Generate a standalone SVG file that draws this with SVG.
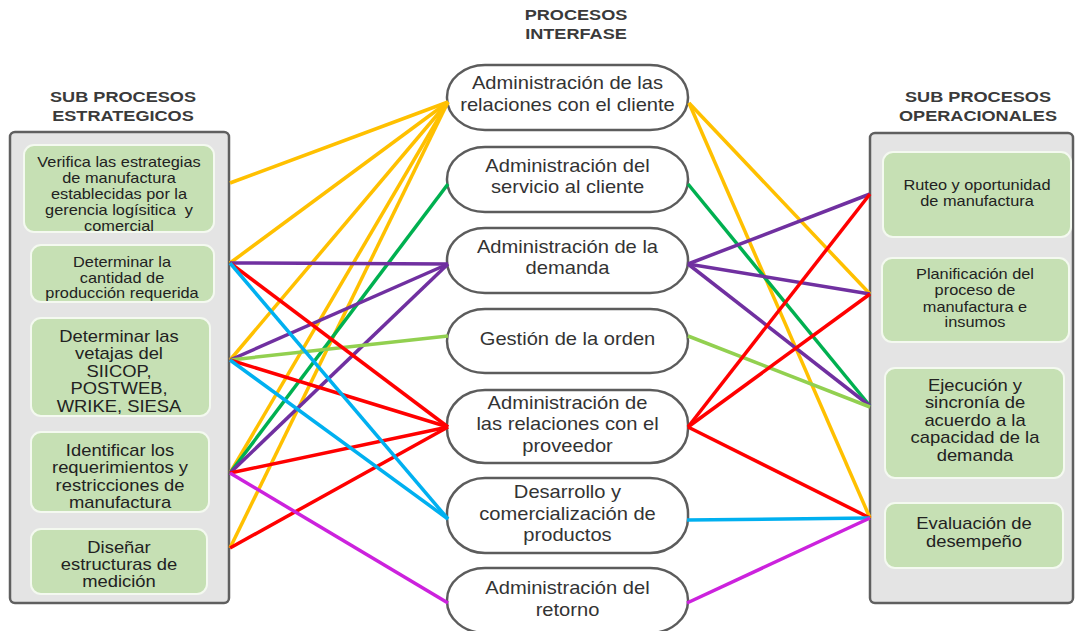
<svg xmlns="http://www.w3.org/2000/svg" width="1076" height="631" viewBox="0 0 1076 631">
  <style>
    .panel { fill: #e4e4e4; stroke: #5f5f5f; stroke-width: 2.5; }
    .box { fill: #c6e0b4; stroke: #f4f9f0; stroke-width: 2; }
    .proc { fill: #ffffff; stroke: #5c5c5c; stroke-width: 2.5; }
    .title { font-family: "Liberation Sans", Arial, sans-serif; font-weight: bold; font-size: 14.5px; fill: #3a3a3a; text-anchor: middle; }
    .t { font-family: "Liberation Sans", Arial, sans-serif; fill: #222222; text-anchor: middle; }
    .s14 { font-size: 14.2px; }
    .s16 { font-size: 16px; }
    .s17 { font-size: 17.5px; fill: #333333; }
    .links line { stroke-width: 3.5; fill: none; }
    .yellow { stroke: #ffc000; }
    .green { stroke: #00b050; }
    .purple { stroke: #7030a0; }
    .lime { stroke: #92d050; }
    .red { stroke: #ff0000; }
    .cyan { stroke: #00b0f0; }
    .magenta { stroke: #cc22dd; }
  </style>
  <rect width="1076" height="631" fill="#ffffff"/>

  <!-- column headings -->
  <g id="title-estrategicos" transform="translate(123 0) scale(1.25 1)">
    <text class="title" x="0" y="102">SUB PROCESOS</text>
    <text class="title" x="0" y="121">ESTRATEGICOS</text>
  </g>
  <g id="title-interfase" transform="translate(576 0) scale(1.25 1)">
    <text class="title" x="0" y="20">PROCESOS</text>
    <text class="title" x="0" y="39">INTERFASE</text>
  </g>
  <g id="title-operacionales" transform="translate(978 0) scale(1.25 1)">
    <text class="title" x="0" y="102">SUB PROCESOS</text>
    <text class="title" x="0" y="121">OPERACIONALES</text>
  </g>

  <!-- left panel: strategic sub-processes -->
  <g id="panel-estrategicos">
    <rect class="panel" x="10" y="132" width="219" height="471" rx="5"/>
  </g>
  <g id="est-1">
    <rect class="box" x="24" y="145" width="190" height="87" rx="10"/>
    <g transform="translate(119 0) scale(1.15 1)">
      <text class="t s14" x="0" y="167">Verifica las estrategias</text>
      <text class="t s14" x="0" y="183">de manufactura</text>
      <text class="t s14" x="0" y="199">establecidas por la</text>
      <text class="t s14" x="0" y="215" xml:space="preserve">gerencia logísitica  y</text>
      <text class="t s14" x="0" y="231">comercial</text>
    </g>
  </g>
  <g id="est-2">
    <rect class="box" x="31" y="245" width="183" height="57" rx="10"/>
    <g transform="translate(122 0) scale(1.15 1)">
      <text class="t s14" x="0" y="267">Determinar la</text>
      <text class="t s14" x="0" y="283">cantidad de</text>
      <text class="t s14" x="0" y="298">producción requerida</text>
    </g>
  </g>
  <g id="est-3">
    <rect class="box" x="31" y="318" width="179" height="98" rx="10"/>
    <g transform="translate(119 0) scale(1.15 1)">
      <text class="t s16" x="0" y="342">Determinar las</text>
      <text class="t s16" x="0" y="359">vetajas del</text>
      <text class="t s16" x="0" y="377">SIICOP,</text>
      <text class="t s16" x="0" y="394">POSTWEB,</text>
      <text class="t s16" x="0" y="412">WRIKE, SIESA</text>
    </g>
  </g>
  <g id="est-4">
    <rect class="box" x="31" y="432" width="178" height="80" rx="10"/>
    <g transform="translate(120 0) scale(1.15 1)">
      <text class="t s16" x="0" y="456">Identificar los</text>
      <text class="t s16" x="0" y="473">requerimientos y</text>
      <text class="t s16" x="0" y="491">restricciones de</text>
      <text class="t s16" x="0" y="508">manufactura</text>
    </g>
  </g>
  <g id="est-5">
    <rect class="box" x="31" y="529" width="176" height="65" rx="10"/>
    <g transform="translate(119 0) scale(1.15 1)">
      <text class="t s16" x="0" y="553">Diseñar</text>
      <text class="t s16" x="0" y="570">estructuras de</text>
      <text class="t s16" x="0" y="587">medición</text>
    </g>
  </g>

  <!-- right panel: operational sub-processes -->
  <g id="panel-operacionales">
    <rect class="panel" x="870" y="133" width="203" height="470" rx="5"/>
  </g>
  <g id="op-1">
    <rect class="box" x="883" y="152" width="188" height="85" rx="10"/>
    <g transform="translate(977 0) scale(1.15 1)">
      <text class="t s14" x="0" y="190">Ruteo y oportunidad</text>
      <text class="t s14" x="0" y="206">de manufactura</text>
    </g>
  </g>
  <g id="op-2">
    <rect class="box" x="882" y="258" width="187" height="84" rx="10"/>
    <g transform="translate(975 0) scale(1.15 1)">
      <text class="t s14" x="0" y="279">Planificación del</text>
      <text class="t s14" x="0" y="295">proceso de</text>
      <text class="t s14" x="0" y="312">manufactura e</text>
      <text class="t s14" x="0" y="327">insumos</text>
    </g>
  </g>
  <g id="op-3">
    <rect class="box" x="885" y="368" width="179" height="110" rx="10"/>
    <g transform="translate(975 0) scale(1.15 1)">
      <text class="t s16" x="0" y="391">Ejecución y</text>
      <text class="t s16" x="0" y="408">sincronía de</text>
      <text class="t s16" x="0" y="426">acuerdo a la</text>
      <text class="t s16" x="0" y="443">capacidad de la</text>
      <text class="t s16" x="0" y="461">demanda</text>
    </g>
  </g>
  <g id="op-4">
    <rect class="box" x="885" y="503" width="178" height="65" rx="10"/>
    <g transform="translate(974 0) scale(1.15 1)">
      <text class="t s16" x="0" y="529">Evaluación de</text>
      <text class="t s16" x="0" y="547">desempeño</text>
    </g>
  </g>

  <!-- interface processes -->
  <g id="int-1">
    <rect class="proc" x="447" y="65" width="241" height="65" rx="38" ry="32"/>
    <g transform="translate(567.5 0) scale(1.15 1)">
      <text class="t s17" x="0" y="89">Administración de las</text>
      <text class="t s17" x="0" y="111">relaciones con el cliente</text>
    </g>
  </g>
  <g id="int-2">
    <rect class="proc" x="447" y="147" width="241" height="65" rx="38" ry="32"/>
    <g transform="translate(567.5 0) scale(1.15 1)">
      <text class="t s17" x="0" y="172">Administración del</text>
      <text class="t s17" x="0" y="193">servicio al cliente</text>
    </g>
  </g>
  <g id="int-3">
    <rect class="proc" x="447" y="228" width="241" height="65" rx="38" ry="32"/>
    <g transform="translate(567.5 0) scale(1.15 1)">
      <text class="t s17" x="0" y="253">Administración de la</text>
      <text class="t s17" x="0" y="274">demanda</text>
    </g>
  </g>
  <g id="int-4">
    <rect class="proc" x="447" y="309" width="241" height="64" rx="38" ry="32"/>
    <g transform="translate(567.5 0) scale(1.15 1)">
      <text class="t s17" x="0" y="345">Gestión de la orden</text>
    </g>
  </g>
  <g id="int-5">
    <rect class="proc" x="447" y="390" width="241" height="73" rx="38" ry="34"/>
    <g transform="translate(567.5 0) scale(1.15 1)">
      <text class="t s17" x="0" y="409">Administración de</text>
      <text class="t s17" x="0" y="430">las relaciones con el</text>
      <text class="t s17" x="0" y="452">proveedor</text>
    </g>
  </g>
  <g id="int-6">
    <rect class="proc" x="447" y="478" width="241" height="75" rx="38" ry="35"/>
    <g transform="translate(567.5 0) scale(1.15 1)">
      <text class="t s17" x="0" y="498">Desarrollo y</text>
      <text class="t s17" x="0" y="520">comercialización de</text>
      <text class="t s17" x="0" y="541">productos</text>
    </g>
  </g>
  <g id="int-7">
    <rect class="proc" x="447" y="568" width="241" height="65" rx="38" ry="32"/>
    <g transform="translate(567.5 0) scale(1.15 1)">
      <text class="t s17" x="0" y="594">Administración del</text>
      <text class="t s17" x="0" y="616">retorno</text>
    </g>
  </g>

  <!-- connectors -->
  <g id="connectors" class="links">
    <!-- strategic -> interface -->
    <line class="yellow" x1="230" y1="183" x2="448" y2="102"/>
    <line class="yellow" x1="230" y1="263" x2="448" y2="102"/>
    <line class="yellow" x1="230" y1="360" x2="448" y2="102"/>
    <line class="yellow" x1="230" y1="473" x2="448" y2="102"/>
    <line class="yellow" x1="230" y1="548" x2="448" y2="102"/>
    <line class="green" x1="230" y1="473" x2="448" y2="184"/>
    <line class="purple" x1="230" y1="263" x2="448" y2="264"/>
    <line class="purple" x1="230" y1="360" x2="448" y2="264"/>
    <line class="purple" x1="230" y1="473" x2="448" y2="264"/>
    <line class="lime" x1="230" y1="360" x2="448" y2="336"/>
    <line class="red" x1="230" y1="263" x2="448" y2="427"/>
    <line class="red" x1="230" y1="360" x2="448" y2="427"/>
    <line class="red" x1="230" y1="473" x2="448" y2="427"/>
    <line class="red" x1="230" y1="548" x2="448" y2="427"/>
    <line class="cyan" x1="230" y1="263" x2="448" y2="519"/>
    <line class="cyan" x1="230" y1="360" x2="448" y2="519"/>
    <line class="magenta" x1="230" y1="473" x2="448" y2="603"/>
    <!-- interface -> operational -->
    <line class="yellow" x1="689" y1="103" x2="870" y2="294"/>
    <line class="yellow" x1="689" y1="103" x2="870" y2="518"/>
    <line class="green" x1="688" y1="184" x2="870" y2="406"/>
    <line class="purple" x1="688" y1="264" x2="870" y2="194"/>
    <line class="purple" x1="688" y1="264" x2="870" y2="294"/>
    <line class="purple" x1="688" y1="264" x2="870" y2="406"/>
    <line class="lime" x1="688" y1="336" x2="870" y2="407"/>
    <line class="red" x1="688" y1="427" x2="870" y2="194"/>
    <line class="red" x1="688" y1="427" x2="870" y2="294"/>
    <line class="red" x1="688" y1="427" x2="870" y2="518"/>
    <line class="cyan" x1="687" y1="520" x2="870" y2="518"/>
    <line class="magenta" x1="687" y1="603" x2="870" y2="518"/>
  </g>
</svg>
